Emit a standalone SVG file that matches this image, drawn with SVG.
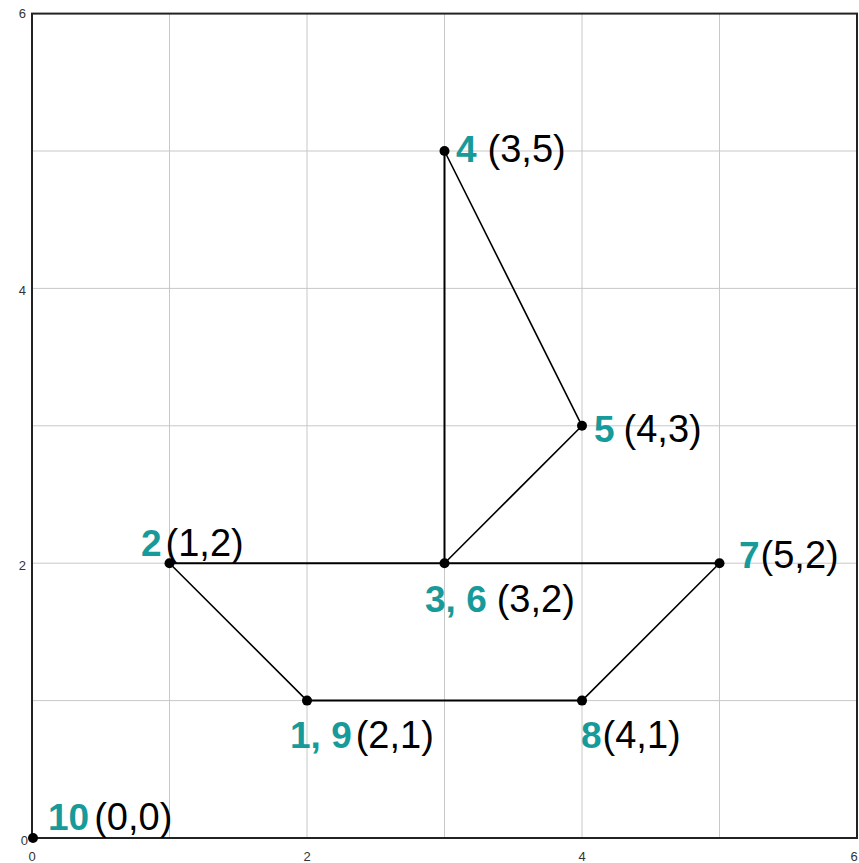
<svg xmlns="http://www.w3.org/2000/svg" width="859" height="863" viewBox="0 0 859 863">
<style>
.grid{stroke:#c8c8c8;stroke-width:1;fill:none}
.frame{stroke:#222;stroke-width:2;fill:none}
.edge{stroke:#000;stroke-width:2;fill:none;stroke-linecap:round}
.diag{stroke:#000;stroke-width:1.6;fill:none;stroke-linecap:round}
.dot{fill:#000}
.tick{font-family:"Liberation Sans",Arial,sans-serif;font-size:13px;fill:#333}
.num{font-family:"Liberation Sans",Arial,sans-serif;font-size:37px;font-weight:bold;fill:#179a9a}
.crd{font-family:"Liberation Sans",Arial,sans-serif;font-size:38px;fill:#000}
</style>
<rect width="859" height="863" fill="#fff"/>
<g id="grid">
<path class="grid" d="M169.5,14V838M307,14V838M444.5,14V838M582,14V838M719.5,14V838M32,151H857M32,288.4H857M32,425.8H857M32,563.2H857M32,700.6H857"/>
<rect class="frame" x="32" y="13.6" width="825" height="824.4"/>
</g>
<g id="ticks">
<text class="tick" x="26" y="18" text-anchor="end">6</text>
<text class="tick" x="26" y="295" text-anchor="end">4</text>
<text class="tick" x="26" y="570" text-anchor="end">2</text>
<text class="tick" x="28" y="845" text-anchor="end">0</text>
<text class="tick" x="32" y="861" text-anchor="middle">0</text>
<text class="tick" x="307" y="861" text-anchor="middle">2</text>
<text class="tick" x="582" y="861" text-anchor="middle">4</text>
<text class="tick" x="854" y="861" text-anchor="middle">6</text>
</g>
<g id="connectors">
<line class="diag" x1="307" y1="700.6" x2="169.5" y2="563.2"/>
<line class="edge" x1="169.5" y1="563.2" x2="444.5" y2="563.2"/>
<line class="edge" x1="444.5" y1="563.2" x2="444.5" y2="151"/>
<line class="diag" x1="444.5" y1="151" x2="582" y2="425.8"/>
<line class="diag" x1="582" y1="425.8" x2="444.5" y2="563.2"/>
<line class="edge" x1="444.5" y1="563.2" x2="719.5" y2="563.2"/>
<line class="diag" x1="719.5" y1="563.2" x2="582" y2="700.6"/>
<line class="edge" x1="582" y1="700.6" x2="307" y2="700.6"/>
</g>
<g id="p1-9"><circle class="dot" cx="307" cy="700.6" r="5"/><text x="290" y="748"><tspan class="num">1, 9</tspan><tspan class="crd" dx="4">(2,1)</tspan></text></g>
<g id="p2"><circle class="dot" cx="169.5" cy="563.2" r="5"/><text x="141" y="556"><tspan class="num">2</tspan><tspan class="crd" dx="4">(1,2)</tspan></text></g>
<g id="p3-6"><circle class="dot" cx="444.5" cy="563.2" r="5"/><text x="425" y="612"><tspan class="num">3, 6</tspan><tspan class="crd" dx="10">(3,2)</tspan></text></g>
<g id="p4"><circle class="dot" cx="444.5" cy="151" r="5"/><text x="456" y="162"><tspan class="num">4</tspan><tspan class="crd" dx="11">(3,5)</tspan></text></g>
<g id="p5"><circle class="dot" cx="582" cy="425.8" r="5"/><text x="594" y="442"><tspan class="num">5</tspan><tspan class="crd" dx="9">(4,3)</tspan></text></g>
<g id="p7"><circle class="dot" cx="719.5" cy="563.2" r="5"/><text x="739" y="568"><tspan class="num">7</tspan><tspan class="crd" dx="1">(5,2)</tspan></text></g>
<g id="p8"><circle class="dot" cx="582" cy="700.6" r="5"/><text x="581" y="748"><tspan class="num">8</tspan><tspan class="crd" dx="1">(4,1)</tspan></text></g>
<g id="p10"><circle class="dot" cx="33" cy="838" r="5"/><text x="48" y="830"><tspan class="num">10</tspan><tspan class="crd" dx="5">(0,0)</tspan></text></g>
</svg>
